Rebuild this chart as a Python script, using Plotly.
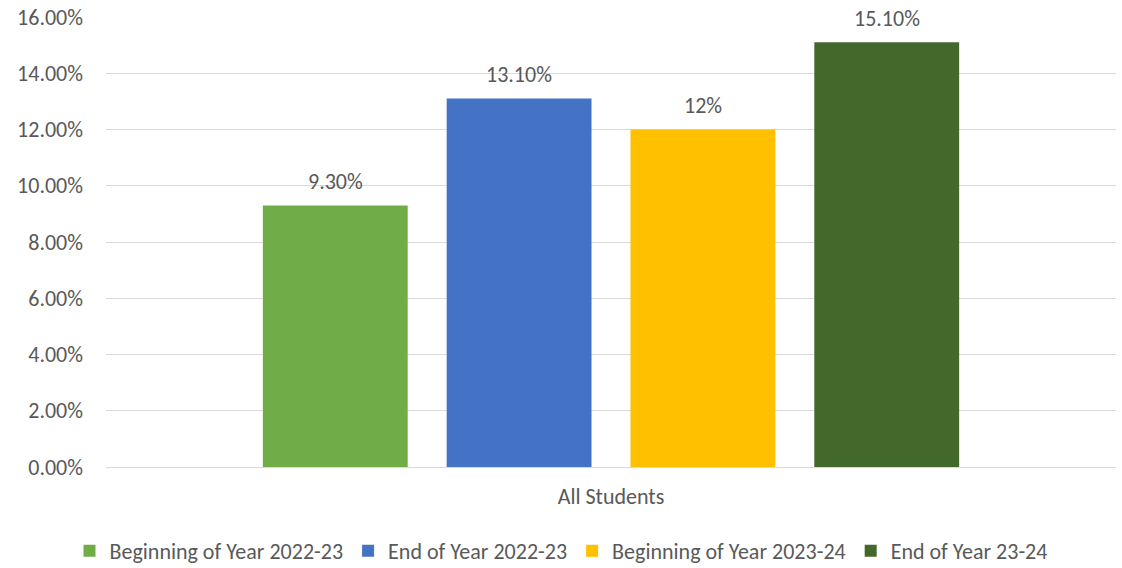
import plotly.graph_objects as go

categories = ["All Students"]
series_names = ["Beginning of Year 2022-23", "End of Year 2022-23",
                "Beginning of Year 2023-24", "End of Year 23-24"]
series_values = [0.093, 0.131, 0.12, 0.151]
series_labels = ["9.30%", "13.10%", "12%", "15.10%"]
colors = ["#70AD47", "#4472C4", "#FFC000", "#43682B"]
tick_vals = [0, 0.02, 0.04, 0.06, 0.08, 0.10, 0.12, 0.14, 0.16]
tick_text = ["0.00%", "2.00%", "4.00%", "6.00%", "8.00%", "10.00%", "12.00%", "14.00%", "16.00%"]

FONT = "Calibri, Carlito, Lato, sans-serif"
TXT = "#595959"
FS = 22
bargap = 0.272

fig = go.Figure()
for name, v, c in zip(series_names, series_values, colors):
    fig.add_trace(go.Bar(x=categories, y=[v], name=name, marker_color=c,
                         marker_line_width=0))

n = len(series_values)
slot = (1 - bargap) / n
for i, (v, lab) in enumerate(zip(series_values, series_labels)):
    fig.add_annotation(x=(i - (n - 1) / 2) * slot, y=v, xref="x", yref="y",
                       text=lab, showarrow=False, yshift=24,
                       font=dict(family=FONT, size=FS, color=TXT))

fig.update_layout(
    width=1122, height=568,
    margin=dict(l=106, r=6, t=17, b=101, autoexpand=False),
    paper_bgcolor="white", plot_bgcolor="white",
    barmode="group", bargap=bargap, bargroupgap=0.212,
    font=dict(family=FONT, size=FS, color=TXT),
    showlegend=True,
    legend=dict(orientation="h", x=0.5, xanchor="center", xref="container",
                y=0.03, yanchor="middle", yref="container",
                font=dict(family=FONT, size=FS, color=TXT), itemwidth=30,
                tracegroupgap=0),
    xaxis=dict(showgrid=False, showline=False, ticks="", ticklabelstandoff=14,
               tickfont=dict(family=FONT, size=FS, color=TXT)),
    yaxis=dict(range=[0, 0.16], tickvals=tick_vals, ticktext=tick_text,
               showgrid=True, gridcolor="#D9D9D9", gridwidth=1.3,
               zeroline=True, zerolinecolor="#D9D9D9", zerolinewidth=1.3,
               showline=False, ticks="", ticklabelstandoff=22,
               tickfont=dict(family=FONT, size=FS, color=TXT)),
)

fig.write_html("out.html")
